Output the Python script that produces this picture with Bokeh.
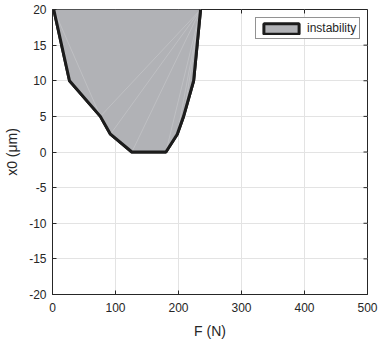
import math
from bokeh.plotting import figure
from bokeh.models import Legend, LegendItem, Range1d, FixedTicker
from bokeh.embed import file_html
from bokeh.resources import INLINE

# Instability region boundary (F in N, x0 in um)
F_left = [2, 27, 76, 92, 126]
x0_left = [20, 10, 5, 2.5, 0]
F_right = [180, 198, 208, 224, 235]
x0_right = [0, 2.5, 5, 10, 20]

x_ticks = [0, 100, 200, 300, 400, 500]
y_ticks = [-20, -15, -10, -5, 0, 5, 10, 15, 20]

poly_F = F_left + F_right
poly_x0 = x0_left + x0_right

FONT = "Liberation Sans"
TXT = "#262626"

xmin, xmax = x_ticks[0], x_ticks[-1]
ymin, ymax = y_ticks[0], y_ticks[-1]

p = figure(frame_width=315, frame_height=285, output_backend="svg", toolbar_location=None,
           x_range=Range1d(xmin, xmax), y_range=Range1d(ymin, ymax),
           min_border_left=52, min_border_right=12, min_border_top=9, min_border_bottom=50)
p.background_fill_color = "white"
p.border_fill_color = "white"
p.outline_line_color = TXT
p.outline_line_width = 1

for ax in [p.xaxis[0], p.yaxis[0]]:
    ax.major_tick_in = 4
    ax.major_tick_out = 0
    ax.minor_tick_in = 0
    ax.minor_tick_out = 0
    ax.axis_line_color = TXT
    ax.major_tick_line_color = TXT
    ax.major_label_text_font = FONT
    ax.major_label_text_font_size = "12px"
    ax.major_label_text_color = TXT
    ax.axis_label_text_font = FONT
    ax.axis_label_text_font_size = "14px"
    ax.axis_label_text_font_style = "normal"
    ax.axis_label_text_color = TXT
p.xaxis[0].ticker = FixedTicker(ticks=x_ticks)
p.yaxis[0].ticker = FixedTicker(ticks=y_ticks)
p.xaxis[0].major_label_overrides = {t: str(t) for t in x_ticks}
p.yaxis[0].major_label_overrides = {t: str(t) for t in y_ticks}
p.xaxis[0].major_label_standoff = 8
p.yaxis[0].major_label_standoff = 6
p.xaxis[0].axis_label = "F (N)"
p.yaxis[0].axis_label = "x0 (μm)"
p.xaxis[0].axis_label_standoff = 8
p.yaxis[0].axis_label_standoff = 6

# ticks on the top and right edges of the box
p.ray(x=x_ticks, y=[ymax] * len(x_ticks), length=4, length_units="screen",
      angle=-math.pi / 2, line_color=TXT, line_width=1)
p.ray(x=[xmax] * len(y_ticks), y=y_ticks, length=4, length_units="screen",
      angle=math.pi, line_color=TXT, line_width=1)

p.grid.grid_line_color = "#e3e3e3"
p.grid.grid_line_width = 1
p.xgrid.ticker = FixedTicker(ticks=x_ticks)
p.ygrid.ticker = FixedTicker(ticks=y_ticks)

FILL = "#b1b2b6"
EDGE = "#1c1c1c"

# full-styled patch (also used for the legend swatch)
styled = p.patch(poly_F, poly_x0, fill_color=FILL, line_color=EDGE, line_width=3)
# fill drawn over it so the edge along the top of the box disappears
p.patch(poly_F, poly_x0, fill_color=FILL, line_color=None)

# faint triangulation seams (rendering artifacts of the filled patch)
apex = len(poly_F) - 1
seam_x0 = [poly_F[0]] + [poly_F[apex]] * 6
seam_y0 = [poly_x0[0]] + [poly_x0[apex]] * 6
seam_x1 = [poly_F[2], poly_F[2], poly_F[3], poly_F[4], poly_F[5], poly_F[6], poly_F[7]]
seam_y1 = [poly_x0[2], poly_x0[2], poly_x0[3], poly_x0[4], poly_x0[5], poly_x0[6], poly_x0[7]]
p.segment(seam_x0, seam_y0, seam_x1, seam_y1, line_color="white", line_alpha=0.3, line_width=0.6)

# boundary (open along the top edge)
p.line(poly_F, poly_x0, line_color=EDGE, line_width=3, line_join="round")

legend = Legend(items=[LegendItem(label="instability", renderers=[styled])],
                location=(203, 255))
legend.label_text_font = FONT
legend.label_text_font_size = "12px"
legend.label_text_color = TXT
legend.glyph_width = 44
legend.glyph_height = 13
legend.padding = 3
legend.spacing = 0
legend.margin = 0
legend.label_standoff = 4
legend.border_line_color = TXT
legend.border_line_width = 1
legend.background_fill_alpha = 1
p.add_layout(legend, "center")

open("out.html", "w").write(file_html(p, INLINE))
